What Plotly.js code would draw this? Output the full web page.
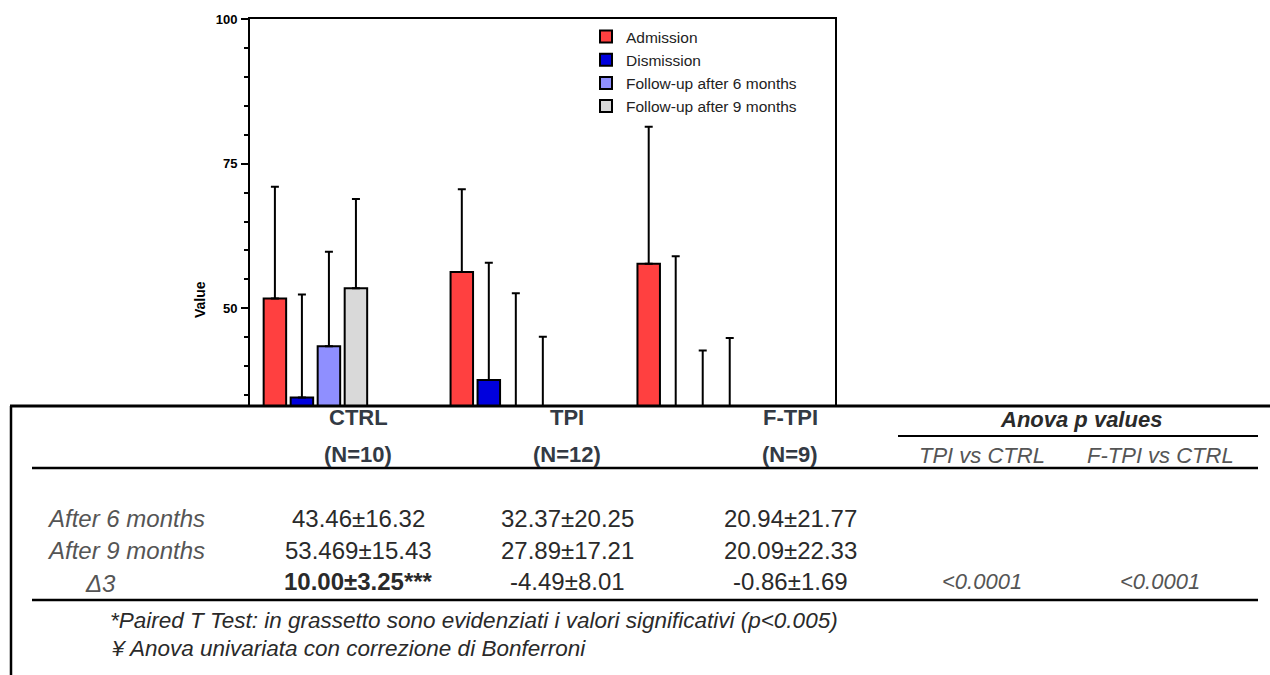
<!DOCTYPE html>
<html>
<head>
<meta charset="utf-8">
<script src="https://cdn.plot.ly/plotly-3.0.1.min.js"></script>
<style>
  html, body { margin: 0; padding: 0; background: #ffffff; }
  #chart { width: 1270px; height: 675px; }
</style>
</head>
<body>
<div id="chart"></div>
<script>
// ---------------- Chart data ----------------
const groups = ['CTRL', 'TPI', 'F-TPI'];
const seriesNames = ['Admission', 'Dismission', 'Follow-up after 6 months', 'Follow-up after 9 months'];
const admission = [51.7, 56.3, 57.7];
const admissionSD = [19.3, 14.3, 23.7];
const dismission = [34.6, 37.6, 28.0];
const dismissionSD = [17.8, 20.3, 31.0];
const followUp6 = [43.46, 32.37, 20.94];
const followUp6SD = [16.32, 20.25, 21.77];
const followUp9 = [53.469, 27.89, 20.09];
const followUp9SD = [15.43, 17.21, 24.8];
const yMajorTicks = [50, 75, 100];
const yMajorText = ['50', '75', '100'];
const yMinorTicks = [35, 40, 45, 55, 60, 65, 70, 80, 85, 90, 95];
const yAxisTitle = 'Value';

// ---------------- Table data ----------------
const tableGroups = ['CTRL', 'TPI', 'F-TPI'];
const tableN = ['(N=10)', '(N=12)', '(N=9)'];
const tableRowLabels = ['After 6 months', 'After 9 months', '\u03943'];
const ctrlCol = ['43.46\u00b116.32', '53.469\u00b115.43', '10.00\u00b13.25***'];
const tpiCol = ['32.37\u00b120.25', '27.89\u00b117.21', '-4.49\u00b18.01'];
const ftpiCol = ['20.94\u00b121.77', '20.09\u00b122.33', '-0.86\u00b11.69'];
const anovaTitle = 'Anova p values';
const anovaCols = ['TPI vs CTRL', 'F-TPI vs CTRL'];
const anovaVals = ['<0.0001', '<0.0001'];
const footnotes = ['*Paired T Test: in grassetto sono evidenziati i valori significativi (p<0.005)',
                   '\u00a5 Anova univariata con correzione di Bonferroni'];

// ---------------- Layout geometry ----------------
const W = 1270, H = 675;
const PL = 250, PR = 835, PT = 19, PB = 405;
const px = v => (v - PL) / (PR - PL);
const py = v => (PB - v) / (PB - PT);

const colors = ['#ff4040', '#0000dd', '#8f8fff', '#d9d9d9'];
const values = [admission, dismission, followUp6, followUp9];
const sds = [admissionSD, dismissionSD, followUp6SD, followUp9SD];

const traces = seriesNames.map((name, i) => ({
  type: 'bar',
  name: name,
  x: groups,
  y: values[i],
  marker: { color: colors[i], line: { color: '#000000', width: 2 } },
  error_y: {
    type: 'data', symmetric: false,
    array: sds[i], arrayminus: sds[i].map(() => 0),
    color: '#000000', thickness: 2, width: 4
  },
  hoverinfo: 'skip'
}));
// invisible trace on the overlay axis that carries the minor ticks
traces.push({
  type: 'scatter', x: [groups[0]], y: [50], yaxis: 'y2', mode: 'markers',
  marker: { opacity: 0 }, showlegend: false, hoverinfo: 'skip'
});

const tableFont = '"Liberation Sans", Arial, sans-serif';
const darkTxt = '#2a2a2a';
const greyTxt = '#555555';
const headTxt = '#333a44';

const annotations = [];
function ann(text, x, y, opt) {
  opt = opt || {};
  annotations.push(Object.assign({
    text: text, x: px(x), y: py(y), xref: 'paper', yref: 'paper',
    xanchor: 'center', yanchor: 'middle', showarrow: false,
    font: { family: tableFont, size: 24, color: darkTxt }
  }, opt));
}

// y axis title
ann('<b>' + yAxisTitle + '</b>', 200, 300, { textangle: -90,
  font: { family: '"Liberation Sans", Arial, sans-serif', size: 14, color: '#000000' } });

const colX = [358, 567, 790];
const rowY = [518, 550, 581];
tableGroups.forEach((g, i) => {
  ann('<b>' + g + '</b>', colX[i], 418, { font: { family: tableFont, size: 22, color: headTxt } });
  ann('<b>' + tableN[i] + '</b>', colX[i], 454, { font: { family: tableFont, size: 22, color: headTxt } });
});
ann('<b><i>' + anovaTitle + '</i></b>', 1081, 420, { font: { family: tableFont, size: 22, color: darkTxt } });
const anovaX = [982, 1160];
anovaCols.forEach((t, i) => ann('<i>' + t + '</i>', anovaX[i], 455, { font: { family: tableFont, size: 22, color: greyTxt } }));

tableRowLabels.forEach((t, i) => {
  if (i < 2) {
    ann('<i>' + t + '</i>', 207, rowY[i], { xanchor: 'right', font: { family: tableFont, size: 24, color: greyTxt } });
  } else {
    ann('<i>' + t + '</i>', 100, rowY[i] + 2, { font: { family: tableFont, size: 24, color: greyTxt } });
  }
});
const cols = [ctrlCol, tpiCol, ftpiCol];
cols.forEach((col, c) => col.forEach((t, r) => {
  const txt = (c === 0 && r === 2) ? '<b>' + t + '</b>' : t;
  ann(txt, colX[c], rowY[r], { font: { family: tableFont, size: 24, color: darkTxt } });
}));
anovaVals.forEach((t, i) => ann('<i>' + t + '</i>', anovaX[i], rowY[2], { font: { family: tableFont, size: 22, color: greyTxt } }));

ann('<i>' + footnotes[0] + '</i>', 108, 620, { xanchor: 'left', font: { family: tableFont, size: 22.5, color: darkTxt } });
ann('<i>' + footnotes[1] + '</i>', 110, 648, { xanchor: 'left', font: { family: tableFont, size: 22.5, color: darkTxt } });

function hline(x0, x1, y, w) {
  return { type: 'line', xref: 'paper', yref: 'paper', x0: px(x0), x1: px(x1), y0: py(y), y1: py(y),
           line: { color: '#000000', width: w } };
}
const shapes = [
  hline(10, 1270, 406, 3),
  { type: 'line', xref: 'paper', yref: 'paper', x0: px(11), x1: px(11), y0: py(406), y1: py(676),
    line: { color: '#000000', width: 2.5 } },
  hline(898, 1258, 436, 2),
  hline(32, 1258, 468, 2.5),
  hline(32, 1258, 600, 2.5)
];

const yRange = [33.3, 100.0001];
const layout = {
  width: W, height: H,
  margin: { l: PL, r: W - PR, t: PT, b: H - PB, pad: 0 },
  paper_bgcolor: '#ffffff', plot_bgcolor: '#ffffff',
  font: { family: '"Liberation Sans", Arial, sans-serif', color: '#000000' },
  barmode: 'group',
  bargap: 0.422,
  bargroupgap: 0.167,
  showlegend: true,
  legend: {
    x: px(586), y: py(20), xanchor: 'left', yanchor: 'top',
    bgcolor: 'rgba(0,0,0,0)', borderwidth: 0,
    font: { family: '"Liberation Sans", Arial, sans-serif', size: 15.5, color: '#222222' },
    itemwidth: 30, tracegroupgap: 0
  },
  xaxis: {
    type: 'category', range: [-0.35, 2.78],
    showticklabels: false, ticks: '', showgrid: false, zeroline: false,
    showline: true, mirror: true, linecolor: '#000000', linewidth: 2,
    fixedrange: true
  },
  yaxis: {
    range: yRange, tickmode: 'array', tickvals: yMajorTicks,
    ticktext: yMajorText.map(t => '<b>' + t + '</b>'),
    ticks: 'outside', ticklen: 7, tickwidth: 2, tickcolor: '#000000',
    showgrid: false, zeroline: false,
    showline: true, mirror: true, linecolor: '#000000', linewidth: 2,
    tickfont: { family: '"Liberation Sans", Arial, sans-serif', size: 13, color: '#000000' },
    ticklabelstandoff: 1,
    fixedrange: true
  },
  yaxis2: {
    overlaying: 'y', anchor: 'x', side: 'left', range: yRange,
    tickmode: 'array', tickvals: yMinorTicks, ticktext: yMinorTicks.map(() => ''),
    ticks: 'outside', ticklen: 5, tickwidth: 2, tickcolor: '#000000',
    showticklabels: false, showgrid: false, zeroline: false, showline: false,
    fixedrange: true
  },
  shapes: shapes,
  annotations: annotations
};

Plotly.newPlot('chart', traces, layout, { displayModeBar: false, staticPlot: true });
</script>
</body>
</html>
